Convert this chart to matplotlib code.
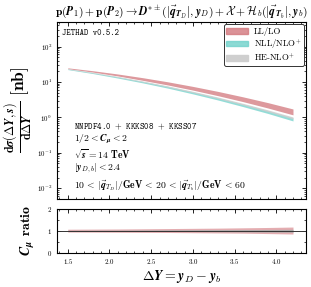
import matplotlib
matplotlib.use('Agg')
import matplotlib.pyplot as plt
import numpy as np
from matplotlib.patches import Patch
from matplotlib.ticker import MultipleLocator, LogLocator, NullFormatter

plt.rcParams['mathtext.fontset'] = 'cm'
plt.rcParams['font.family'] = 'serif'
plt.rcParams['font.serif'] = ['cmr10', 'DejaVu Serif']
plt.rcParams['axes.formatter.use_mathtext'] = True

# Delta Y bins
dY = [1.5, 1.8, 2.1, 2.4, 2.7, 3.0, 3.3, 3.6, 3.9, 4.2]

# cross section bands [nb] (mu variation)
LL_up = [25.1, 20.8, 16.8, 13.2, 10.1, 7.50, 5.42, 3.81, 2.61, 1.73]
LL_dn = [23.7, 19.0, 14.8, 11.1, 8.22, 5.89, 4.11, 2.79, 1.84, 1.18]
NLL_up = [23.4, 18.4, 14.0, 10.4, 7.53, 5.28, 3.61, 2.40, 1.56, 0.977]
NLL_dn = [22.4, 17.3, 12.9, 9.42, 6.70, 4.61, 3.10, 2.02, 1.29, 0.794]
HE_up = [23.7, 18.7, 14.3, 10.6, 7.74, 5.46, 3.75, 2.50, 1.63, 1.03]
HE_dn = [22.9, 17.9, 13.6, 9.98, 7.18, 5.01, 3.40, 2.25, 1.45, 0.904]

# C_mu ratio bands
rLL_up = [1.07, 1.075, 1.08, 1.09, 1.10, 1.11, 1.12, 1.135, 1.15, 1.17]
rLL_dn = [0.94, 0.935, 0.93, 0.925, 0.92, 0.91, 0.90, 0.89, 0.87, 0.85]
rNLL_up = [1.015, 1.02, 1.02, 1.025, 1.03, 1.035, 1.04, 1.045, 1.05, 1.055]
rNLL_dn = [0.985, 0.98, 0.98, 0.975, 0.97, 0.965, 0.96, 0.955, 0.95, 0.945]
rHE_up = [1.02, 1.02, 1.025, 1.03, 1.035, 1.04, 1.045, 1.05, 1.06, 1.07]
rHE_dn = [0.98, 0.98, 0.975, 0.97, 0.965, 0.96, 0.955, 0.95, 0.94, 0.93]

c_LL = '#d2777d'
c_NLL = '#6fd1ca'
c_HE = '#cfcfcf'


def style_axis(ax):
	ax.tick_params(which='both', direction='in', top=True, right=True, labelsize=5)
	ax.tick_params(which='major', length=3, width=0.6)
	ax.tick_params(which='minor', length=1.5, width=0.5)
	for s in ax.spines.values():
		s.set_linewidth(0.8)


def main():
	fig = plt.figure(figsize=(3.11, 2.87), dpi=100)
	ax = fig.add_axes([0.183, 0.307, 0.802, 0.617])
	axr = fig.add_axes([0.183, 0.120, 0.802, 0.152])

	ax.fill_between(dY, LL_dn, LL_up, color=c_LL, alpha=0.75, lw=0)
	ax.fill_between(dY, NLL_dn, NLL_up, color=c_NLL, alpha=0.75, lw=0)
	ax.fill_between(dY, HE_dn, HE_up, color=c_HE, alpha=0.85, lw=0)

	ax.set_yscale('log')
	ax.set_ylim(5e-3, 5e2)
	ax.set_xlim(1.37, 4.36)
	ax.yaxis.set_major_locator(LogLocator(base=10, numticks=10))
	ax.yaxis.set_minor_locator(LogLocator(base=10, subs=np.arange(2, 10), numticks=20))
	ax.yaxis.set_minor_formatter(NullFormatter())
	ax.xaxis.set_major_locator(MultipleLocator(0.5))
	ax.xaxis.set_minor_locator(MultipleLocator(0.1))
	ax.set_xticklabels([])
	style_axis(ax)

	ax.set_ylabel(r'$\frac{\mathbf{d}\boldsymbol{\sigma}(\mathbf{\Delta}\boldsymbol{Y}, \boldsymbol{s})}{\mathbf{d}\mathbf{\Delta}\boldsymbol{Y}}\ \mathbf{[nb]}$',
		fontsize=12.5, labelpad=1)
	ax.set_title(r'$\mathbf{p}(\boldsymbol{P}_1) + \mathbf{p}(\boldsymbol{P}_2) \rightarrow \boldsymbol{D}^{*\pm}(|\vec{\boldsymbol{q}}_{\boldsymbol{T}_D}|, \boldsymbol{y}_D) + \boldsymbol{\mathcal{X}} + \boldsymbol{\mathcal{H}}_b(|\vec{\boldsymbol{q}}_{\boldsymbol{T}_b}|, \boldsymbol{y}_b)$',
		fontsize=8.3, pad=5)

	ax.text(0.02, 0.935, 'JETHAD v0.5.2', transform=ax.transAxes, fontsize=6, family='cmtt10', va='center')

	lines = [
		r'NNPDF4.0 $+$ KKKS08 $+$ KKSS07',
		r'$\mathbf{1/2} < \boldsymbol{C}_{\boldsymbol{\mu}} < \mathbf{2}$',
		r'$\sqrt{\boldsymbol{s}} = \mathbf{14\ TeV}$',
		r'$|\boldsymbol{y}_{D,b}| < \mathbf{2.4}$',
		r'$\mathbf{10}\,<\,|\vec{\boldsymbol{q}}_{T_D}|/\mathbf{GeV}\,<\,\mathbf{20}\,<\,|\vec{\boldsymbol{q}}_{T_b}|/\mathbf{GeV}\,<\,\mathbf{60}$',
	]
	ypos = [0.405, 0.335, 0.255, 0.175, 0.075]
	for s, yp in zip(lines, ypos):
		if s.startswith('NNPDF'):
			ax.text(0.068, yp, s, transform=ax.transAxes, fontsize=6.2, va='center', family='cmtt10')
		else:
			ax.text(0.068, yp, s, transform=ax.transAxes, fontsize=7, va='center')

	handles = [Patch(color=c_LL, alpha=0.8), Patch(color=c_NLL, alpha=0.8), Patch(color=c_HE)]
	labels = ['LL/LO', r'NLL/NLO$^{+}$', r'HE-NLO$^{+}$']
	leg = ax.legend(handles, labels, loc='upper right', fontsize=6.3, frameon=True, fancybox=True,
		handlelength=2.5, handleheight=0.6, borderpad=0.3, labelspacing=0.12, framealpha=1,
		handletextpad=0.6, borderaxespad=0.3)
	leg.get_frame().set_edgecolor('#333333')
	leg.get_frame().set_linewidth(0.7)

	axr.fill_between(dY, rLL_dn, rLL_up, color=c_LL, alpha=0.6, lw=0)
	axr.fill_between(dY, rNLL_dn, rNLL_up, color=c_NLL, alpha=0.5, lw=0)
	axr.fill_between(dY, rHE_dn, rHE_up, color='#b0a0a0', alpha=0.6, lw=0)
	axr.axhline(1.0, color='#333333', lw=0.7)
	axr.set_xlim(1.37, 4.36)
	axr.set_ylim(0, 2)
	axr.yaxis.set_major_locator(MultipleLocator(1))
	axr.yaxis.set_minor_locator(MultipleLocator(0.5))
	axr.xaxis.set_major_locator(MultipleLocator(0.5))
	axr.xaxis.set_minor_locator(MultipleLocator(0.1))
	style_axis(axr)
	axr.set_xticks([1.5, 2.0, 2.5, 3.0, 3.5, 4.0])
	axr.set_xticklabels([r'$\mathbf{%.1f}$' % v for v in [1.5, 2.0, 2.5, 3.0, 3.5, 4.0]])
	axr.set_yticks([0, 1, 2])
	axr.set_yticklabels([r'$\mathbf{0}$', r'$\mathbf{1}$', r'$\mathbf{2}$'])
	axr.set_ylabel(r'$\boldsymbol{C}_{\boldsymbol{\mu}}$ $\mathbf{ratio}$', fontsize=10, labelpad=7)
	axr.set_xlabel(r'$\mathbf{\Delta}\boldsymbol{Y} = \boldsymbol{y}_D - \boldsymbol{y}_b$', fontsize=10, labelpad=1)

	fig.savefig('out.png', dpi=100)


if __name__ == '__main__':
	main()
